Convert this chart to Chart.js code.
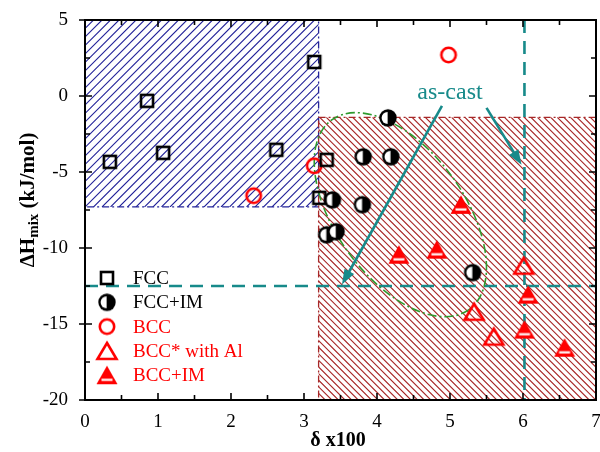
<!DOCTYPE html>
<html>
<head>
<meta charset="utf-8">
<script src="https://cdn.jsdelivr.net/npm/chart.js@4"></script>
<style>
html, body { margin: 0; padding: 0; background: #fff; overflow: hidden; }
#wrap { width: 600px; height: 452px; }
</style>
</head>
<body>
<div id="wrap"><canvas id="plot"></canvas></div>
<script>
// values: delta x100 vs dHmix (kJ/mol)
var fccX   = [0.34, 0.85, 1.07, 2.62, 3.14, 3.31, 3.21];
var fccY   = [-4.33, -0.32, -3.74, -3.54, 2.24, -4.2, -6.7];
var fccImX = [4.15, 3.81, 4.19, 3.39, 3.80, 3.31, 3.44, 5.31];
var fccImY = [-1.44, -4.0, -4.0, -6.83, -7.15, -9.13, -8.93, -11.62];
var bccX   = [4.98, 2.31, 3.14];
var bccY   = [2.7, -6.56, -4.59];
var bccAlX = [6.01, 5.33, 5.60];
var bccAlY = [-11.16, -14.19, -15.83];
var bccImX = [5.15, 4.82, 4.30, 6.07, 6.02, 6.57];
var bccImY = [-7.16, -10.11, -10.44, -13.07, -15.37, -16.56];
var seriesNames = ["FCC", "FCC+IM", "BCC", "BCC* with Al", "BCC+IM"];

// shaded regions and guide lines (data units)
var blueBoxX = [0, 3.2],   blueBoxY = [-7.3, 5];
var redBoxX  = [3.2, 7],   redBoxY  = [-20, -1.4];
var deltaLimit = 6.02;
var enthLimit = -12.5;
// green dash-dot loop: centre, end of long axis, half width (x units)
var loopCentre = [4.32, -7.81];
var loopTip = [5.26, -14.05];
var loopHalfWidth = 0.88;
// "as-cast" note and its two arrows
var noteAt = [5.0, 0.2];
var arrowA = [[4.89, -0.65], [3.52, -12.4]];
var arrowB = [[5.50, -0.78], [5.98, -4.53]];

var TEAL = '#178a8a';
var SERIF = '"Liberation Serif", "Times New Roman", serif';

function pts(xs, ys) {
  return xs.map(function (x, i) { return {x: x, y: ys[i]}; });
}

function marker(w, h, draw) {
  var c = document.createElement('canvas');
  c.width = w; c.height = h;
  draw(c.getContext('2d'));
  return c;
}

var mSquare = marker(18, 18, function (g) {
  g.strokeStyle = '#000'; g.lineWidth = 2.6;
  g.strokeRect(3, 3, 12, 12);
});
var mHalf = marker(20, 20, function (g) {
  g.fillStyle = '#000';
  g.beginPath(); g.arc(10, 10, 8.7, 0, Math.PI * 2); g.fill();
  g.fillStyle = '#fff';
  g.beginPath(); g.arc(9.6, 10, 6, Math.PI / 2, Math.PI * 1.5); g.closePath(); g.fill();
});
var mCircle = marker(20, 20, function (g) {
  g.strokeStyle = '#f00'; g.lineWidth = 2.6;
  g.beginPath(); g.arc(10, 10, 7.2, 0, Math.PI * 2); g.stroke();
});
var mTriOpen = marker(24, 22, function (g) {
  g.strokeStyle = '#f00'; g.lineWidth = 2.6; g.lineJoin = 'miter';
  g.beginPath(); g.moveTo(12, 3); g.lineTo(21.5, 19); g.lineTo(2.5, 19); g.closePath(); g.stroke();
});
var mTriFill = marker(24, 22, function (g) {
  g.fillStyle = '#f00';
  g.beginPath(); g.moveTo(12, 1.5); g.lineTo(22.5, 20); g.lineTo(1.5, 20); g.closePath(); g.fill();
  g.fillStyle = '#fff';
  g.fillRect(6.5, 14.5, 11, 2.2);
});
var markers = [mSquare, mHalf, mCircle, mTriOpen, mTriFill];
var labelColors = ['#000', '#000', '#f00', '#f00', '#f00'];

function hatch(ctx, x0, y0, x1, y1, gap, dir, color) {
  ctx.save();
  ctx.beginPath(); ctx.rect(x0, y0, x1 - x0, y1 - y0); ctx.clip();
  ctx.strokeStyle = color; ctx.lineWidth = 1.1;
  ctx.beginPath();
  var h = y1 - y0;
  for (var c = x0 - h; c < x1 + h; c += gap) {
    if (dir > 0) { ctx.moveTo(c, y1); ctx.lineTo(c + h, y0); }
    else { ctx.moveTo(c, y0); ctx.lineTo(c + h, y1); }
  }
  ctx.stroke();
  ctx.restore();
}

function arrow(ctx, p0, p1) {
  var dx = p1[0] - p0[0], dy = p1[1] - p0[1];
  var len = Math.sqrt(dx * dx + dy * dy), ux = dx / len, uy = dy / len;
  var hl = 15, hw = 5.5;
  ctx.strokeStyle = TEAL; ctx.fillStyle = TEAL; ctx.lineWidth = 2.6;
  ctx.beginPath(); ctx.moveTo(p0[0], p0[1]); ctx.lineTo(p1[0] - ux * hl * 0.8, p1[1] - uy * hl * 0.8); ctx.stroke();
  ctx.beginPath();
  ctx.moveTo(p1[0], p1[1]);
  ctx.lineTo(p1[0] - ux * hl - uy * hw, p1[1] - uy * hl + ux * hw);
  ctx.lineTo(p1[0] - ux * hl + uy * hw, p1[1] - uy * hl - ux * hw);
  ctx.closePath(); ctx.fill();
}

var decor = {
  id: 'decor',
  beforeDatasetsDraw: function (chart) {
    var ctx = chart.ctx, xs = chart.scales.x, ys = chart.scales.y;
    var X = function (v) { return xs.getPixelForValue(v); };
    var Y = function (v) { return ys.getPixelForValue(v); };
    // hatched regions
    hatch(ctx, X(blueBoxX[0]), Y(blueBoxY[1]), X(blueBoxX[1]), Y(blueBoxY[0]), 8.5, 1, '#25259a');
    hatch(ctx, X(redBoxX[0]), Y(redBoxY[1]), X(redBoxX[1]), Y(redBoxY[0]), 6.6, -1, '#a82828');
    ctx.save();
    ctx.lineWidth = 1.3;
    ctx.setLineDash([7, 3, 2, 3]);
    ctx.strokeStyle = '#25259a';
    ctx.strokeRect(X(blueBoxX[0]), Y(blueBoxY[1]), X(blueBoxX[1]) - X(blueBoxX[0]), Y(blueBoxY[0]) - Y(blueBoxY[1]));
    ctx.strokeStyle = '#a82828';
    ctx.strokeRect(X(redBoxX[0]), Y(redBoxY[1]), X(redBoxX[1]) - X(redBoxX[0]), Y(redBoxY[0]) - Y(redBoxY[1]));
    // teal dashed limits
    ctx.strokeStyle = TEAL; ctx.lineWidth = 2.6; ctx.setLineDash([13, 8]);
    ctx.beginPath();
    ctx.moveTo(X(deltaLimit), Y(5)); ctx.lineTo(X(deltaLimit), Y(-20));
    ctx.moveTo(X(0), Y(enthLimit)); ctx.lineTo(X(7), Y(enthLimit));
    ctx.stroke();
    // green loop
    var cx = X(loopCentre[0]), cy = Y(loopCentre[1]);
    var tx = X(loopTip[0]), ty = Y(loopTip[1]);
    var a = Math.sqrt((tx - cx) * (tx - cx) + (ty - cy) * (ty - cy));
    var b = X(loopCentre[0] + loopHalfWidth) - cx;
    ctx.strokeStyle = '#2e9a2e'; ctx.lineWidth = 1.6; ctx.setLineDash([9, 3, 2, 3]);
    ctx.beginPath();
    ctx.ellipse(cx, cy, a, b, Math.atan2(ty - cy, tx - cx), 0, Math.PI * 2);
    ctx.stroke();
    ctx.restore();
  },
  afterDatasetsDraw: function (chart) {
    var ctx = chart.ctx, xs = chart.scales.x, ys = chart.scales.y, ca = chart.chartArea;
    var P = function (p) { return [xs.getPixelForValue(p[0]), ys.getPixelForValue(p[1])]; };
    ctx.save();
    arrow(ctx, P(arrowA[0]), P(arrowA[1]));
    arrow(ctx, P(arrowB[0]), P(arrowB[1]));
    var n = P(noteAt);
    ctx.fillStyle = TEAL; ctx.font = '24px ' + SERIF;
    ctx.textAlign = 'center'; ctx.textBaseline = 'middle';
    ctx.fillText('as-cast', n[0], n[1]);

    // legend
    ctx.font = '19px ' + SERIF; ctx.textAlign = 'left';
    for (var i = 0; i < markers.length; i++) {
      var ly = 278 + i * 24.3;
      var m = markers[i];
      ctx.drawImage(m, 107 - m.width / 2, ly - m.height / 2);
      ctx.fillStyle = labelColors[i];
      ctx.fillText(seriesNames[i], 133, ly + 1);
    }

    // frame
    ctx.strokeStyle = '#000'; ctx.lineWidth = 2; ctx.setLineDash([]);
    ctx.strokeRect(ca.left, ca.top, ca.right - ca.left, ca.bottom - ca.top);
    // ticks
    ctx.lineWidth = 1.6;
    ctx.beginPath();
    for (var v = 0; v <= 7.001; v += 0.5) {
      var px = xs.getPixelForValue(v);
      var len = (Math.abs(v - Math.round(v)) < 0.01) ? 7 : 5;
      ctx.moveTo(px, ca.bottom); ctx.lineTo(px, ca.bottom - len);
      ctx.moveTo(px, ca.top); ctx.lineTo(px, ca.top + len);
    }
    for (var w = -20; w <= 5.001; w += 2.5) {
      var py = ys.getPixelForValue(w);
      var major = Math.abs(w % 5) < 0.01;
      ctx.moveTo(ca.left - (major ? 6 : 0), py); ctx.lineTo(ca.left + (major ? 7 : 5), py);
      ctx.moveTo(ca.right, py); ctx.lineTo(ca.right - (major ? 7 : 5), py);
    }
    ctx.stroke();

    // x tick labels, from the scale's own ticks
    ctx.fillStyle = '#000';
    ctx.font = '19px ' + SERIF; ctx.textAlign = 'center'; ctx.textBaseline = 'middle';
    xs.ticks.forEach(function (t) {
      ctx.fillText(String(t.value), xs.getPixelForValue(t.value), ca.bottom + 22);
    });

    // axis titles
    ctx.font = 'bold 20px ' + SERIF;
    ctx.fillText('\u03b4 x100', 338, 441);
    ctx.translate(27, 200); ctx.rotate(-Math.PI / 2);
    ctx.textAlign = 'left'; ctx.textBaseline = 'alphabetic';
    var big = 'bold 21px ' + SERIF, small = 'bold 15px ' + SERIF;
    ctx.font = big; var w1 = ctx.measureText('\u0394H').width, w3 = ctx.measureText(' (kJ/mol)').width;
    ctx.font = small; var w2 = ctx.measureText('mix').width;
    var x0 = -(w1 + w2 + w3) / 2;
    ctx.font = big; ctx.fillText('\u0394H', x0, 7);
    ctx.font = small; ctx.fillText('mix', x0 + w1, 11);
    ctx.font = big; ctx.fillText(' (kJ/mol)', x0 + w1 + w2, 7);
    ctx.restore();
  }
};

var ds = [pts(fccX, fccY), pts(fccImX, fccImY), pts(bccX, bccY), pts(bccAlX, bccAlY), pts(bccImX, bccImY)];

new Chart(document.getElementById('plot'), {
  type: 'scatter',
  data: {
    datasets: ds.map(function (d, i) {
      return { label: seriesNames[i], data: d, pointStyle: markers[i], pointRadius: 8, pointHoverRadius: 8 };
    })
  },
  options: {
    responsive: true,
    maintainAspectRatio: false,
    animation: false,
    events: [],
    layout: { autoPadding: false, padding: { top: 20, right: 4, left: 0, bottom: 0 } },
    plugins: { legend: { display: false }, tooltip: { enabled: false } },
    scales: {
      x: {
        min: 0, max: 7,
        grid: { display: false, drawTicks: false },
        border: { display: false },
        ticks: { stepSize: 1, display: false },
        afterFit: function (s) { s.height = 52; s.paddingLeft = 0; s.paddingRight = 0; }
      },
      y: {
        min: -20, max: 5,
        grid: { display: false, drawTicks: false },
        border: { display: false },
        ticks: { stepSize: 5, color: '#000', padding: 17, font: { family: SERIF, size: 19 } },
        afterFit: function (s) { s.width = 85; s.paddingTop = 0; s.paddingBottom = 0; }
      }
    }
  },
  plugins: [decor]
});
</script>
</body>
</html>
